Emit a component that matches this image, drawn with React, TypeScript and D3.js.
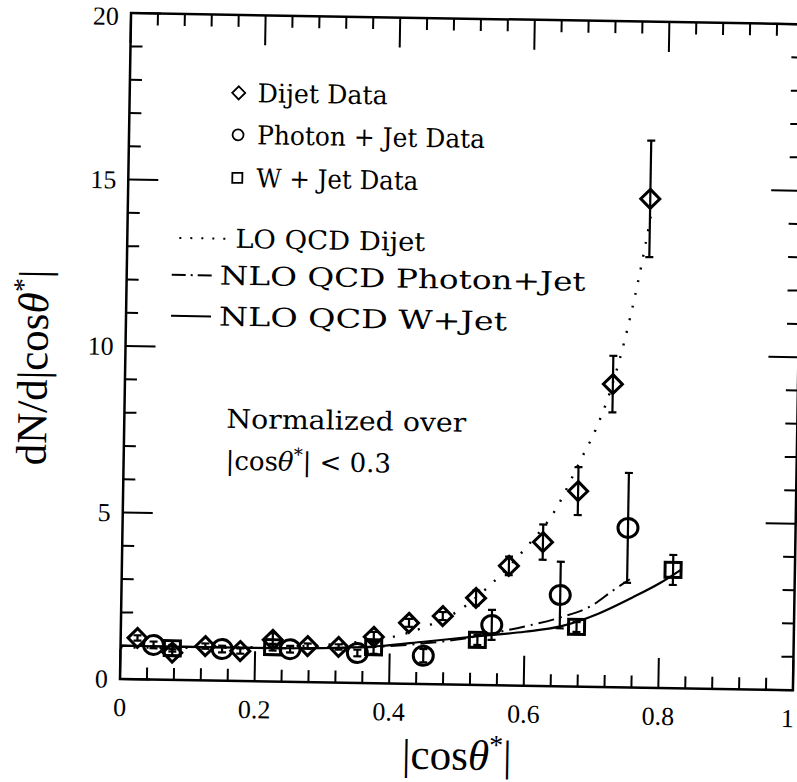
import * as d3 from "d3";

// Dijet data (diamonds)
const dijetX = [0.025, 0.077, 0.126, 0.178, 0.226, 0.278, 0.324, 0.376, 0.428, 0.478, 0.527, 0.575, 0.625, 0.676, 0.725, 0.776];
const dijetY = [1.24, 0.82, 1.03, 0.9, 1.25, 1.08, 1.07, 1.39, 1.83, 2.05, 2.61, 3.59, 4.32, 5.87, 9.1, 14.68];
const dijetErr = [0.08, 0.1, 0.08, 0.08, 0.2, 0.08, 0.08, 0.15, 0.12, 0.12, 0.22, 0.28, 0.53, 0.72, 0.85, 1.75];

// Photon + Jet data (circles)
const photonX = [0.049, 0.151, 0.252, 0.352, 0.45, 0.551, 0.652, 0.751];
const photonY = [1.04, 0.95, 0.98, 0.9, 0.85, 1.81, 2.74, 4.79];
const photonErr = [0.1, 0.1, 0.1, 0.1, 0.2, 0.45, 1.0, 1.65];

// W + Jet data (squares)
const wX = [0.077, 0.226, 0.376, 0.53, 0.677, 0.819];
const wY = [0.95, 1.03, 1.08, 1.35, 1.79, 3.55];
const wErr = [0.1, 0.1, 0.2, 0.15, 0.15, 0.45];

// theory curves
const loX = [0, 0.1, 0.2, 0.3, 0.35, 0.4, 0.45, 0.5, 0.55, 0.6, 0.64, 0.68, 0.7, 0.72, 0.74, 0.76, 0.78];
const loY = [0.95, 0.97, 1.02, 1.12, 1.22, 1.38, 1.7, 2.2, 3.05, 4.15, 5.2, 6.85, 7.7, 8.8, 10.3, 12.2, 14.5];
const nloGX = [0, 0.1, 0.2, 0.3, 0.4, 0.45, 0.5, 0.55, 0.6, 0.65, 0.7, 0.73, 0.755];
const nloGY = [1.0, 1.0, 1.0, 1.03, 1.12, 1.22, 1.35, 1.55, 1.78, 2.05, 2.45, 2.9, 3.25];
const nloWX = [0, 0.1, 0.2, 0.3, 0.386, 0.45, 0.525, 0.6, 0.653, 0.709, 0.758, 0.8, 0.83];
const nloWY = [1.0, 1.0, 1.0, 1.03, 1.12, 1.27, 1.45, 1.62, 1.8, 2.2, 2.69, 3.15, 3.55];

const xTickValues = [0, 0.2, 0.4, 0.6, 0.8, 1];
const xTickLabels = ["0", "0.2", "0.4", "0.6", "0.8", "1"];
const yTickValues = [0, 5, 10, 15, 20];
const yTickLabels = ["0", "5", "10", "15", "20"];

const SERIF = "'Liberation Serif', 'DejaVu Serif', serif";
const LEG = "'DejaVu Serif', 'Liberation Serif', serif";

export default function App() {
  const x = d3.scaleLinear().domain([0, 1]).range([120, 793]);
  const y = d3.scaleLinear().domain([0, 20]).range([679, 13]);
  const [x0, x1] = x.range();
  const [y0, y1] = y.range();

  const xMinor = d3.range(0, 26).map(i => i * 0.04);
  const yMinor = d3.range(0, 21);

  const line = d3.line<[number, number]>()
    .x(d => x(d[0]))
    .y(d => y(d[1]))
    .curve(d3.curveMonotoneX);

  const zip = (a: number[], b: number[]) => a.map((v, i) => [v, b[i]] as [number, number]);

  const errBar = (px: number, py: number, e: number, key: string) => {
    const top = y(py + e), bot = y(py - e), cx = x(px);
    return (
      <g key={key}>
        <line x1={cx} x2={cx} y1={top} y2={bot} />
        <line x1={cx - 4} x2={cx + 4} y1={top} y2={top} />
        <line x1={cx - 4} x2={cx + 4} y1={bot} y2={bot} />
      </g>
    );
  };

  const diamond = (cx: number, cy: number, r: number) =>
    `M${cx},${cy - r}L${cx + r},${cy}L${cx},${cy + r}L${cx - r},${cy}Z`;

  return (
    <svg width={797} height={782} style={{ position: "absolute", left: 0, top: 0, background: "#fff" }}>
      <rect width={797} height={782} fill="#fff" />
      <g transform={`rotate(0.95 ${x0} ${y0})`}>
        {/* frame */}
        <rect x={x0} y={y1} width={x1 - x0} height={y0 - y1} fill="none" stroke="#000" strokeWidth={2.5} />
        {/* ticks */}
        <g stroke="#000" strokeWidth={2}>
          {xMinor.map((v, i) => {
            const major = i % 5 === 0;
            const len = major ? 30 : 12;
            return (
              <g key={"xt" + i}>
                <line x1={x(v)} x2={x(v)} y1={y0} y2={y0 - len} />
                <line x1={x(v)} x2={x(v)} y1={y1} y2={y1 + len} />
              </g>
            );
          })}
          {yMinor.map((v, i) => {
            const major = i % 5 === 0;
            const len = major ? 30 : 12;
            return (
              <g key={"yt" + i}>
                <line x1={x0} x2={x0 + len} y1={y(v)} y2={y(v)} />
                <line x1={x1} x2={x1 - len} y1={y(v)} y2={y(v)} />
              </g>
            );
          })}
        </g>
        {/* tick labels */}
        <g fontFamily={SERIF} fontSize={26} fill="#000">
          {xTickValues.map((v, i) => (
            <text key={"xl" + i} x={Math.min(x(v), 788)} y={y0 + 37} textAnchor="middle">{xTickLabels[i]}</text>
          ))}
          {yTickValues.map((v, i) => (
            <text key={"yl" + i} x={x0 - 12} y={Math.max(y(v) + 9, 25)} textAnchor="end">{yTickLabels[i]}</text>
          ))}
        </g>
        {/* axis titles */}
        <text x={458} y={764} textAnchor="middle" fontFamily={SERIF} fontSize={43}>
          |cos<tspan fontStyle="italic">θ</tspan><tspan dy={-16} fontSize={28}>*</tspan><tspan dy={16}>|</tspan>
        </text>
        <text transform="translate(42,369) rotate(-90)" textAnchor="middle" fontFamily={SERIF} fontSize={43}>
          dN/d|cos<tspan fontStyle="italic">θ</tspan><tspan dy={-16} fontSize={28}>*</tspan><tspan dy={16}>|</tspan>
        </text>

        {/* curves */}
        <g fill="none" stroke="#000">
          <path d={line(zip(loX, loY)) || ""} strokeWidth={2.4} strokeDasharray="2 11" />
          <path d={line(zip(nloGX, nloGY)) || ""} strokeWidth={2} strokeDasharray="16 6 2 6" />
          <path d={line(zip(nloWX, nloWY)) || ""} strokeWidth={2.2} />
        </g>

        {/* error bars */}
        <g stroke="#000" strokeWidth={2.2}>
          {dijetX.map((v, i) => errBar(v, dijetY[i], dijetErr[i], "de" + i))}
          {photonX.map((v, i) => errBar(v, photonY[i], photonErr[i], "pe" + i))}
          {wX.map((v, i) => errBar(v, wY[i], wErr[i], "we" + i))}
        </g>

        {/* markers */}
        <g fill="none" stroke="#000" strokeWidth={3}>
          {dijetX.map((v, i) => (
            <path key={"d" + i} d={diamond(x(v), y(dijetY[i]), 9.5)} />
          ))}
          {photonX.map((v, i) => (
            <ellipse key={"p" + i} cx={x(v)} cy={y(photonY[i])} rx={10} ry={9.5} />
          ))}
          {wX.map((v, i) => (
            <rect key={"w" + i} x={x(v) - 8} y={y(wY[i]) - 7.5} width={16} height={15} />
          ))}
        </g>

        {/* legend */}
        <g fill="none" stroke="#000" strokeWidth={1.8}>
          <path d={diamond(229, 91, 6.5)} />
          <ellipse cx={229} cy={133} rx={5.5} ry={5.5} />
          <rect x={224} y={171} width={10} height={10} />
          <line x1={172} x2={222} y1={237} y2={237} strokeWidth={2} strokeDasharray="2 9" />
          <line x1={165} x2={205} y1={274} y2={274} strokeWidth={2} strokeDasharray="14 5 2 5" />
          <line x1={165} x2={205} y1={315} y2={315} strokeWidth={2} />
        </g>
        <g fontFamily={LEG} fontSize={26} fill="#000" lengthAdjust="spacingAndGlyphs">
          <text x={248} y={100} textLength={130} lengthAdjust="spacingAndGlyphs">Dijet Data</text>
          <text x={248} y={142} textLength={228} lengthAdjust="spacingAndGlyphs">Photon + Jet Data</text>
          <text x={248} y={185} textLength={162} lengthAdjust="spacingAndGlyphs">W + Jet Data</text>
          <text x={228} y={246} textLength={190} lengthAdjust="spacingAndGlyphs">LO QCD Dijet</text>
          <text x={213} y={283} textLength={366} lengthAdjust="spacingAndGlyphs">NLO QCD Photon+Jet</text>
          <text x={213} y={324} textLength={288} lengthAdjust="spacingAndGlyphs">NLO QCD W+Jet</text>
          <text x={222} y={426} textLength={240} lengthAdjust="spacingAndGlyphs">Normalized over</text>
          <text x={222} y={468}>|cos<tspan fontStyle="italic">θ</tspan><tspan dy={-10} fontSize={18}>*</tspan><tspan dy={10}>|</tspan> &lt; 0.3</text>
        </g>
      </g>
    </svg>
  );
}
